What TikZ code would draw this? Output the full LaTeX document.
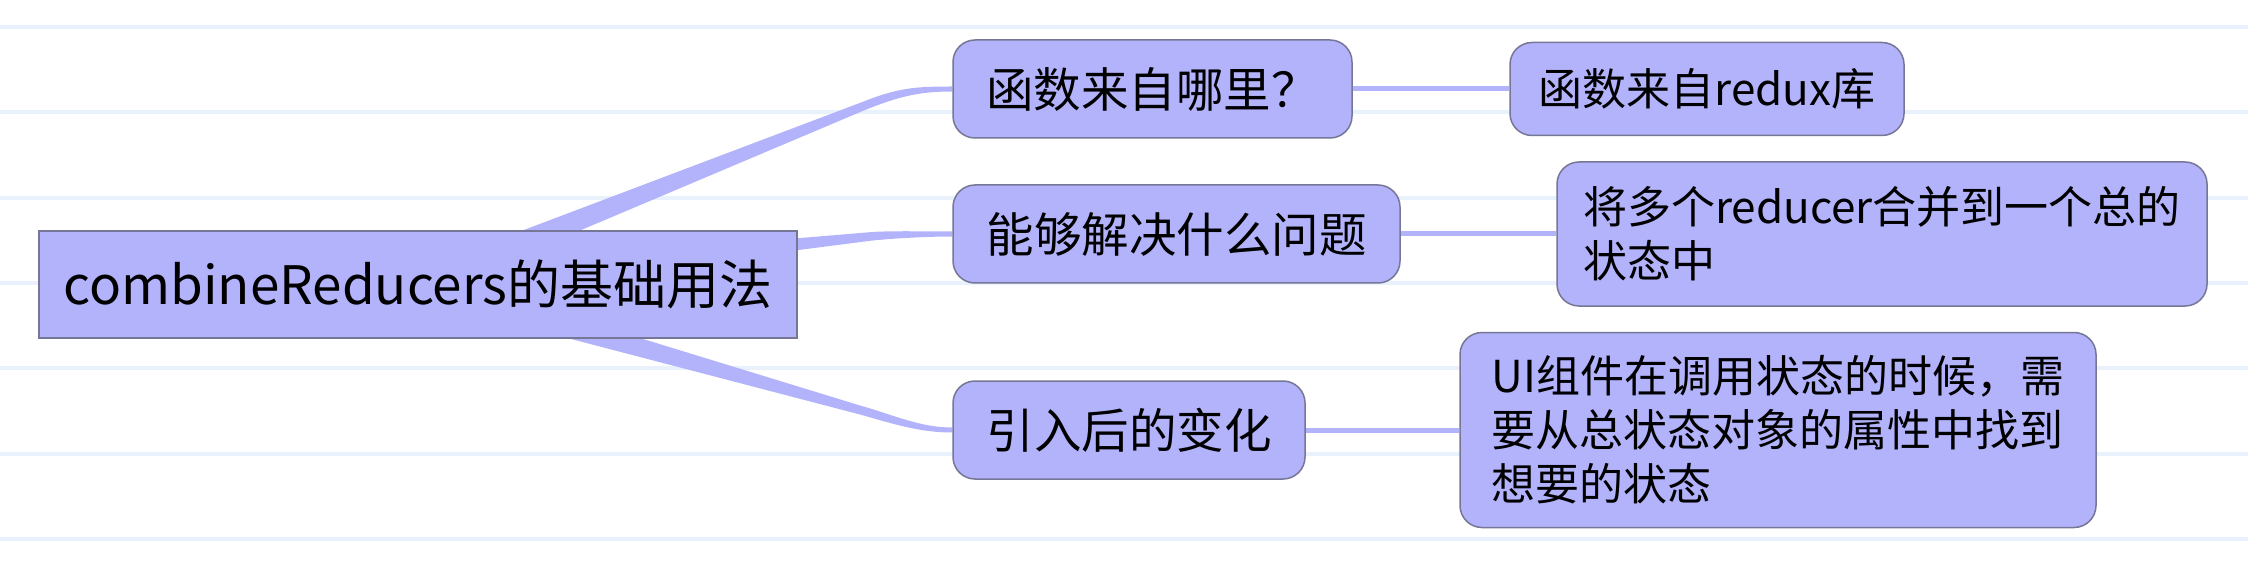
\documentclass[tikz,border=0pt]{standalone}
\usepackage{fontspec}
\setmainfont{Noto Sans CJK SC}
\usetikzlibrary{calc}
\definecolor{nodefill}{RGB}{179,179,252}
\definecolor{branchcol}{RGB}{179,179,252}
\definecolor{bordercol}{RGB}{118,118,150}
\definecolor{gridcol}{RGB}{233,242,252}
\pgfdeclarelayer{bg}
\pgfsetlayers{bg,main}
\tikzset{
  box/.style={draw=bordercol, line width=1.5pt, fill=nodefill, inner sep=0pt, text=black, anchor=center},
  rootbox/.style={box, font=\fontsize{53}{60}\selectfont},
  topicbox/.style={box, rounded corners=22pt, font=\fontsize{47.5}{55}\selectfont},
  leafbox/.style={box, rounded corners=22pt, font=\fontsize{44}{54}\selectfont, align=left},
  gridline/.style={draw=gridcol, line width=3.5pt},
  link/.style={draw=branchcol, line width=5pt},
  branch/.style={fill=branchcol, draw=none},
}
\begin{document}
\begin{tikzpicture}[x=1pt, y=-1pt]
\useasboundingbox (0,0) rectangle (2248,569);

% nodes
\node[rootbox, minimum width=758pt, minimum height=107pt] (root) at (418,284.5) {combineReducers的基础用法};
\node[topicbox, minimum width=399pt, minimum height=98pt] (A) at (1152.5,89) {函数来自哪里？};
\node[topicbox, minimum width=447pt, minimum height=98pt] (B) at (1176.5,234) {能够解决什么问题};
\node[topicbox, minimum width=352pt, minimum height=98pt] (C) at (1129,430) {引入后的变化};
\node[leafbox, minimum width=394pt, minimum height=93pt] (A1) at (1707,89) {函数来自redux库};
\node[leafbox, minimum width=650pt, minimum height=144pt] (B1) at (1882,234) {将多个reducer合并到一个总的\\状态中};
\node[leafbox, minimum width=636pt, minimum height=195pt] (C1) at (1778,430) {UI组件在调用状态的时候，需\\要从总状态对象的属性中找到\\想要的状态};

\begin{pgfonlayer}{bg}
  \fill[white] (0,0) rectangle (2248,569);
  % background ruled lines
  \foreach \yy in {27,112,198,283,368,454,539} {
    \draw[gridline] (0,\yy) -- (2248,\yy);
  }
  % tapered branches from root
  \fill[branch] ($(root.center)+(0,-14.5)$) -- (865,101)
      .. controls (900,87) and (920,86.5) .. ($(A.west)+(0,-2.5)$)
      -- ($(A.west)+(0,2.5)$)
      .. controls (920,91.5) and (900,96) .. (865,110)
      -- ($(root.center)+(0,14.5)$) -- cycle;
  \fill[branch] ($(root.center)+(0,-14.5)$) -- (870,232.2)
      .. controls (890,230.6) and (925,231.5) .. ($(B.west)+(0,-2.5)$)
      -- ($(B.west)+(0,2.5)$)
      .. controls (925,236.5) and (890,238.6) .. (870,240.8)
      -- ($(root.center)+(0,14.5)$) -- cycle;
  \fill[branch] ($(root.center)+(0,-14.5)$) -- (860,405.5)
      .. controls (895,415.4) and (920,427.5) .. ($(C.west)+(0,-2.5)$)
      -- ($(C.west)+(0,2.5)$)
      .. controls (920,432.5) and (895,424.4) .. (860,414.5)
      -- ($(root.center)+(0,14.5)$) -- cycle;
  % links to leaves
  \draw[link] (A.east) -- (A1.west);
  \draw[link] (B.east) -- (B1.west);
  \draw[link] (C.east) -- (C1.west);
\end{pgfonlayer}
\end{tikzpicture}
\end{document}
